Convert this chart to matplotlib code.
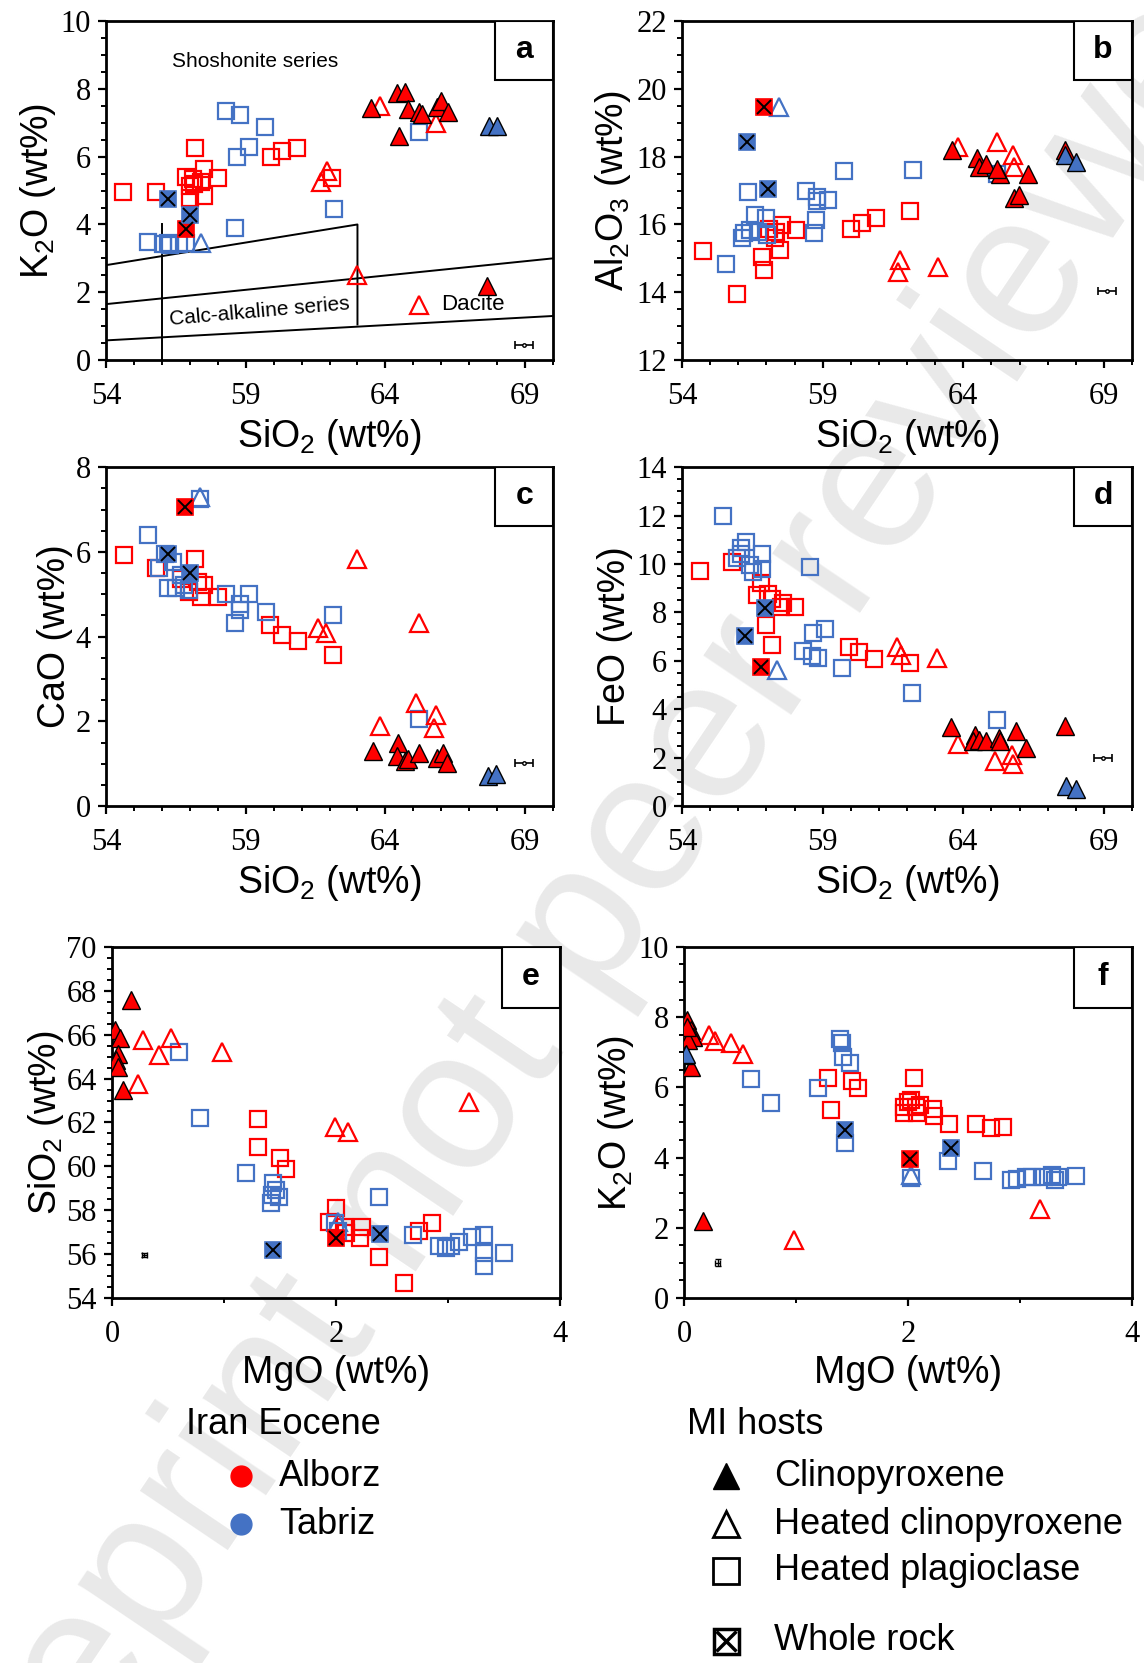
import matplotlib
matplotlib.use('Agg')
import matplotlib.pyplot as plt
from matplotlib.patches import Rectangle
from matplotlib.ticker import FixedLocator, AutoMinorLocator

plt.rcParams['font.family'] = 'Liberation Serif'
plt.rcParams['mathtext.default'] = 'regular'

RED = '#FF0000'
BLUE = '#4472C4'

# ---- panel a: SiO2 vs K2O ----
a_alb_plag = [(54.6, 4.95), (55.8, 4.96), (57.2, 6.27), (56.85, 5.39), (57.1, 5.34), (57.0, 5.14),
              (57.15, 5.19), (57.0, 4.79), (57.4, 5.24), (57.5, 4.84), (57.5, 5.63), (58.0, 5.36),
              (59.9, 5.98), (60.3, 6.18), (60.85, 6.25), (62.1, 5.36)]
a_alb_hcpx = [(63.8, 7.5), (61.9, 5.58), (61.7, 5.26), (63.0, 2.52), (65.8, 7.0)]
a_alb_cpx = [(63.5, 7.43), (64.4, 7.88), (64.7, 7.9), (64.8, 7.41), (64.5, 6.62), (65.2, 7.31),
             (65.3, 7.26), (65.85, 7.46), (66.0, 7.63), (66.25, 7.31), (67.65, 2.17)]
a_tab_cpx = [(67.7, 6.92), (68.0, 6.92)]
a_tab_plag = [(58.3, 7.36), (58.8, 7.23), (59.7, 6.89), (59.1, 6.29), (58.7, 6.0), (58.6, 3.9),
              (62.15, 4.45), (65.2, 6.72), (55.5, 3.48), (56.05, 3.41), (56.3, 3.38), (56.6, 3.41),
              (56.85, 3.46), (56.2, 3.45)]
a_tab_hcpx = [(57.4, 3.44)]
a_alb_wr = [(56.85, 3.87)]
a_tab_wr = [(56.2, 4.76), (57.0, 4.27)]

# Peccerillo & Taylor boundaries (panel a)
pt_upper_x = [54, 63, 63]
pt_upper_y = [2.8, 4.0, 1.05]
pt_mid_x = [54, 70]
pt_mid_y = [1.65, 3.0]
pt_low_x = [54, 70]
pt_low_y = [0.58, 1.3]
pt_vert_x = [56, 56]
pt_vert_y = [4.0, 0]

# ---- panel b: SiO2 vs Al2O3 ----
b_alb_wr = [(56.9, 19.47)]
b_tab_hcpx = [(57.46, 19.47)]
b_tab_wr = [(56.3, 18.42), (57.07, 17.06)]
b_tab_plag = [(56.36, 16.95), (59.74, 17.58), (62.2, 17.6), (58.4, 16.99), (58.8, 16.82), (58.8, 16.7),
              (59.2, 16.72), (58.75, 16.13), (58.7, 15.74), (56.6, 16.28), (56.97, 16.18), (56.2, 15.74),
              (56.4, 15.84), (56.13, 15.59), (56.7, 15.79), (57.03, 15.69), (55.55, 14.82), (65.2, 17.5)]
b_alb_plag = [(54.75, 15.22), (55.96, 13.94), (56.84, 15.05), (56.9, 14.65), (57.1, 15.88), (57.35, 15.79),
              (57.55, 15.98), (57.48, 15.24), (58.05, 15.83), (60.0, 15.88), (60.39, 16.03), (60.9, 16.18),
              (62.1, 16.4), (57.3, 15.6)]
b_alb_hcpx = [(63.8, 18.3), (65.2, 18.44), (65.77, 18.05), (65.8, 17.7), (61.74, 14.95), (61.68, 14.6),
              (63.1, 14.75)]
b_alb_cpx = [(63.6, 18.2), (64.5, 17.97), (64.55, 17.7), (64.8, 17.77), (65.3, 17.5), (65.2, 17.65),
             (66.3, 17.5), (65.8, 16.77), (65.98, 16.87), (67.6, 18.2)]
b_tab_cpx = [(67.6, 18.05), (68.0, 17.85)]

# ---- panel c: SiO2 vs CaO ----
c_alb_wr = [(56.84, 7.07)]
c_tab_hcpx = [(57.38, 7.29)]
c_tab_plag = [(57.38, 7.25), (55.5, 6.39), (55.9, 5.61), (56.2, 5.14), (56.4, 5.76), (56.5, 5.14),
              (56.7, 5.45), (56.8, 5.22), (56.97, 5.1), (58.3, 5.0), (59.1, 5.0), (58.8, 4.78),
              (58.8, 4.63), (58.6, 4.33), (59.74, 4.59), (62.13, 4.51), (65.2, 2.05), (56.1, 5.95)]
c_tab_wr = [(56.2, 5.94), (57.0, 5.49)]
c_alb_plag = [(54.65, 5.92), (55.8, 5.62), (57.2, 5.84), (56.7, 5.37), (56.97, 5.06), (57.3, 5.29),
              (57.5, 5.22), (57.4, 4.94), (58.0, 4.94), (59.87, 4.27), (60.3, 4.04), (60.86, 3.9),
              (62.13, 3.57)]
c_alb_hcpx = [(63.0, 5.82), (61.6, 4.2), (61.87, 4.08), (65.2, 4.33), (65.1, 2.43), (65.8, 2.16),
              (65.74, 1.84), (63.8, 1.88)]
c_alb_cpx = [(63.55, 1.29), (64.45, 1.49), (64.4, 1.18), (64.7, 1.06), (64.8, 1.11), (65.2, 1.25),
             (65.85, 1.14), (66.06, 1.25), (66.2, 1.02)]
c_tab_cpx = [(67.68, 0.71), (67.96, 0.76)]

# ---- panel d: SiO2 vs FeO ----
d_tab_plag = [(55.46, 11.97), (56.08, 10.64), (56.28, 10.91), (55.95, 10.23), (56.4, 9.95), (56.84, 10.43),
              (56.54, 9.68), (56.86, 9.81), (58.56, 9.88), (58.66, 7.16), (59.08, 7.3), (58.3, 6.42),
              (58.62, 6.18), (58.82, 6.1), (59.7, 5.7), (62.16, 4.69), (65.2, 3.57), (56.08, 10.43)]
d_tab_wr = [(56.95, 8.17), (56.24, 7.03)]
d_alb_wr = [(56.82, 5.76)]
d_tab_hcpx = [(57.36, 5.63)]
d_alb_plag = [(54.63, 9.72), (55.76, 10.09), (56.67, 8.72), (57.06, 8.78), (57.19, 8.54), (57.52, 8.23),
              (58.0, 8.23), (57.0, 7.48), (57.19, 6.66), (59.92, 6.59), (60.3, 6.35), (60.84, 6.08),
              (62.1, 5.9), (56.8, 9.2), (57.6, 8.4)]
d_alb_hcpx = [(61.64, 6.59), (61.8, 6.25), (63.05, 6.1), (63.8, 2.58), (65.13, 1.85), (65.74, 2.09),
              (65.78, 1.72)]
d_alb_cpx = [(63.55, 3.27), (64.4, 2.95), (64.35, 2.68), (64.57, 2.74), (64.8, 2.68), (65.26, 2.81),
             (65.3, 2.7), (65.87, 3.09), (66.24, 2.4), (67.6, 3.32)]
d_tab_cpx = [(67.65, 0.82), (68.0, 0.69)]

# ---- panel e: MgO vs SiO2 ----
e_alb_cpx = [(0.17, 67.57), (0.03, 66.2), (0.07, 65.83), (0.05, 65.14), (0.04, 64.84), (0.05, 64.54),
             (0.1, 63.47)]
e_alb_hcpx = [(0.28, 65.75), (0.42, 65.07), (0.53, 65.83), (0.98, 65.22), (0.23, 63.73), (1.99, 61.8),
              (2.11, 61.58), (3.19, 62.94)]
e_tab_plag = [(0.6, 65.22), (0.79, 62.19), (1.2, 59.71), (1.42, 58.32), (1.43, 58.7), (1.46, 58.9),
              (1.49, 58.6), (1.44, 59.23), (2.38, 58.62), (1.99, 57.4), (2.02, 57.03), (2.69, 56.87),
              (2.92, 56.37), (2.98, 56.27), (3.03, 56.37), (3.1, 56.57), (3.21, 56.8), (3.32, 56.87),
              (3.32, 56.04), (3.32, 55.46), (3.5, 56.07)]
e_tab_hcpx = [(2.02, 57.48)]
e_tab_wr = [(1.44, 56.19), (2.39, 56.9)]
e_alb_wr = [(2.0, 56.72)]
e_alb_plag = [(1.3, 62.15), (1.3, 60.9), (1.5, 60.36), (1.55, 59.9), (2.0, 58.09), (1.94, 57.48),
              (2.07, 57.25), (2.23, 57.25), (2.21, 56.72), (2.38, 55.89), (2.61, 54.67), (2.74, 57.03),
              (2.86, 57.4), (2.09, 56.95)]

# ---- panel f: MgO vs K2O ----
f_alb_cpx = [(0.03, 7.91), (0.06, 7.63), (0.08, 7.44), (0.04, 7.35), (0.06, 6.59), (0.17, 2.18),
             (0.03, 7.73)]
f_tab_cpx = [(0.01, 6.92), (0.02, 6.95)]
f_alb_hcpx = [(0.22, 7.49), (0.28, 7.33), (0.42, 7.25), (0.53, 6.94), (0.98, 1.64), (3.18, 2.53)]
f_tab_plag = [(0.6, 6.23), (0.78, 5.56), (1.2, 5.97), (1.39, 7.39), (1.41, 7.25), (1.42, 6.87),
              (1.48, 6.68), (1.44, 4.41), (2.36, 3.89), (2.03, 3.41), (2.67, 3.63), (2.92, 3.36),
              (2.97, 3.38), (3.05, 3.46), (3.11, 3.46), (3.21, 3.46), (3.29, 3.51), (3.31, 3.36),
              (3.34, 3.46), (3.5, 3.48)]
f_tab_hcpx = [(2.03, 3.51)]
f_tab_wr = [(1.44, 4.79), (2.38, 4.27)]
f_alb_wr = [(2.02, 3.95)]
f_alb_plag = [(1.29, 6.26), (1.31, 5.36), (1.5, 6.18), (1.55, 5.97), (2.05, 6.26), (1.96, 5.26),
              (2.0, 5.59), (2.03, 5.64), (2.07, 5.45), (2.11, 5.5), (2.08, 5.28), (2.22, 5.37),
              (2.23, 5.17), (2.37, 4.96), (2.61, 4.96), (2.74, 4.83), (2.85, 4.86), (1.96, 5.45)]

# analytical uncertainty markers (x, y, xerr, yerr)
err_a = (68.95, 0.44, 0.32, 0)
err_b = (69.1, 14.03, 0.32, 0)
err_c = (68.95, 1.02, 0.32, 0)
err_d = (68.97, 1.99, 0.32, 0)
err_e = (0.29, 55.96, 0.025, 0.1)
err_f = (0.3, 1.0, 0.025, 0.1)

sio2_ticks = [54, 59, 64, 69]
mgo_ticks = [0, 2, 4]

SANS = 'Liberation Sans'


def xy(pts):
    return [p[0] for p in pts], [p[1] for p in pts]


def draw_group(ax, pts, kind, colour):
    if not pts:
        return
    x, y = xy(pts)
    if kind == 'plag':
        ax.plot(x, y, ls='none', marker='s', ms=12, mfc='none', mec=colour, mew=1.6, zorder=3)
    elif kind == 'hcpx':
        ax.plot(x, y, ls='none', marker='^', ms=13, mfc='none', mec=colour, mew=1.6, zorder=4)
    elif kind == 'cpx':
        ax.plot(x, y, ls='none', marker='^', ms=13, mfc=colour, mec='black', mew=1.0, zorder=5)
    elif kind == 'wr':
        ax.plot(x, y, ls='none', marker='s', ms=12, mfc=colour, mec=colour, mew=1.2, zorder=6)
        ax.plot(x, y, ls='none', marker='x', ms=10, mec='black', mew=1.4, zorder=7)


def draw_panel(ax, groups, err):
    for kind, alb, tab in groups:
        draw_group(ax, alb, kind, RED)
        draw_group(ax, tab, kind, BLUE)
    ex, ey, exe, eye = err
    if eye:
        ax.errorbar([ex], [ey], xerr=[exe], yerr=[eye], fmt='none', ecolor='black',
                    elinewidth=1.0, capsize=2, capthick=1.0, zorder=8)
    else:
        ax.errorbar([ex], [ey], xerr=[exe], fmt='o', ms=2.5, color='black', mfc='white',
                    ecolor='black', elinewidth=1.2, capsize=3, capthick=1.2, zorder=8)


def style_axes(ax, xlim, ylim, xticks, xminor, ylabel, xlabel, letter, ylabelpad=2):
    ax.set_xlim(*xlim)
    ax.set_ylim(*ylim)
    ax.set_facecolor('none')
    ax.xaxis.set_major_locator(FixedLocator(xticks))
    ax.xaxis.set_minor_locator(FixedLocator(xminor))
    ax.set_yticks(range(int(ylim[0]), int(ylim[1]) + 1, 2))
    ax.yaxis.set_minor_locator(AutoMinorLocator(4))
    ax.tick_params(which='major', direction='out', length=6, width=1.6, labelsize=22)
    ax.tick_params(which='minor', direction='out', length=3.5, width=1.4)
    ax.tick_params(axis='x', which='major', pad=10)
    ax.tick_params(axis='y', which='major', pad=5)
    for s in ax.spines.values():
        s.set_linewidth(2.0)
    ax.set_ylabel(ylabel, fontsize=27, family=SANS, labelpad=ylabelpad)
    ax.set_xlabel(xlabel, fontsize=27, family=SANS, labelpad=4)
    ax.add_patch(Rectangle((0.871, 0.827), 0.129, 0.173, transform=ax.transAxes,
                           facecolor='white', edgecolor='black', lw=1.5, zorder=9))
    ax.text(0.9355, 0.9135, letter, transform=ax.transAxes, ha='center', va='center',
            fontsize=23, fontweight='bold', family=SANS, zorder=10)


fig = plt.figure(figsize=(11.44, 16.63), dpi=100)
fig.patch.set_facecolor('white')

# watermark
fig.text(0.525, 0.4552, 'Preprint not peer reviewed', rotation=56, fontsize=145, color='#e9e9e9',
         ha='center', va='center', family=SANS, zorder=-10)

sio2_minor = list(range(55, 71))
mgo_minor = [1, 3]
sio2_label = 'SiO$_2$ (wt%)'
mgo_label = 'MgO (wt%)'

ax_a = fig.add_axes([0.0927, 0.7835, 0.3907, 0.2038])
draw_panel(ax_a, [('plag', a_alb_plag, a_tab_plag), ('hcpx', a_alb_hcpx, a_tab_hcpx),
                  ('cpx', a_alb_cpx, a_tab_cpx), ('wr', a_alb_wr, a_tab_wr)], err_a)
for lx, ly in [(pt_upper_x, pt_upper_y), (pt_mid_x, pt_mid_y), (pt_low_x, pt_low_y), (pt_vert_x, pt_vert_y)]:
    ax_a.plot(lx, ly, color='black', lw=1.4, zorder=2)
ax_a.text(59.35, 8.8, 'Shoshonite series', fontsize=15, family=SANS, ha='center', va='center')
ax_a.text(59.5, 1.43, 'Calc-alkaline series', fontsize=15, family=SANS, ha='center', va='center', rotation=5)
ax_a.plot([65.2], [1.63], ls='none', marker='^', ms=13, mfc='none', mec=RED, mew=1.6)
ax_a.text(66.0, 1.63, 'Dacite', fontsize=16, family=SANS, ha='left', va='center')
style_axes(ax_a, (54, 70), (0, 10), sio2_ticks, sio2_minor, 'K$_2$O (wt%)', sio2_label, 'a')

ax_b = fig.add_axes([0.5962, 0.7835, 0.3934, 0.2038])
draw_panel(ax_b, [('plag', b_alb_plag, b_tab_plag), ('hcpx', b_alb_hcpx, b_tab_hcpx),
                  ('cpx', b_alb_cpx, b_tab_cpx), ('wr', b_alb_wr, b_tab_wr)], err_b)
style_axes(ax_b, (54, 70), (12, 22), sio2_ticks, sio2_minor, 'Al$_2$O$_3$ (wt%)', sio2_label, 'b')

ax_c = fig.add_axes([0.0927, 0.5153, 0.3907, 0.2038])
draw_panel(ax_c, [('plag', c_alb_plag, c_tab_plag), ('hcpx', c_alb_hcpx, c_tab_hcpx),
                  ('cpx', c_alb_cpx, c_tab_cpx), ('wr', c_alb_wr, c_tab_wr)], err_c)
style_axes(ax_c, (54, 70), (0, 8), sio2_ticks, sio2_minor, 'CaO (wt%)', sio2_label, 'c')

ax_d = fig.add_axes([0.5962, 0.5153, 0.3934, 0.2038])
draw_panel(ax_d, [('plag', d_alb_plag, d_tab_plag), ('hcpx', d_alb_hcpx, d_tab_hcpx),
                  ('cpx', d_alb_cpx, d_tab_cpx), ('wr', d_alb_wr, d_tab_wr)], err_d)
style_axes(ax_d, (54, 70), (0, 14), sio2_ticks, sio2_minor, 'FeO (wt%)', sio2_label, 'd')

ax_e = fig.add_axes([0.0979, 0.2195, 0.3916, 0.2111])
draw_panel(ax_e, [('plag', e_alb_plag, e_tab_plag), ('hcpx', e_alb_hcpx, e_tab_hcpx),
                  ('cpx', e_alb_cpx, []), ('wr', e_alb_wr, e_tab_wr)], err_e)
style_axes(ax_e, (0, 4), (54, 70), mgo_ticks, mgo_minor, 'SiO$_2$ (wt%)', mgo_label, 'e', ylabelpad=0)

ax_f = fig.add_axes([0.5979, 0.2195, 0.3916, 0.2111])
draw_panel(ax_f, [('plag', f_alb_plag, f_tab_plag), ('hcpx', f_alb_hcpx, f_tab_hcpx),
                  ('cpx', f_alb_cpx, f_tab_cpx), ('wr', f_alb_wr, f_tab_wr)], err_f)
style_axes(ax_f, (0, 4), (0, 10), mgo_ticks, mgo_minor, 'K$_2$O (wt%)', mgo_label, 'f')

# ---- legends, laid out in figure pixels ----
leg = fig.add_axes([0, 0, 1, 1])
leg.set_xlim(0, 1144)
leg.set_ylim(1663, 0)
leg.axis('off')
leg.patch.set_alpha(0)

leg.text(186, 1424, 'Iran Eocene', fontsize=26, family=SANS, va='center')
leg.plot([241], [1476], ls='none', marker='o', ms=15, color=RED)
leg.text(279, 1476, 'Alborz', fontsize=26, family=SANS, va='center')
leg.plot([241], [1524], ls='none', marker='o', ms=15, color=BLUE)
leg.text(279, 1524, 'Tabriz', fontsize=26, family=SANS, va='center')

leg.text(687, 1424, 'MI hosts', fontsize=26, family=SANS, va='center')
host_rows = [('Clinopyroxene', 1476), ('Heated clinopyroxene', 1524), ('Heated plagioclase', 1571),
             ('Whole rock', 1641)]
leg.plot([726], [host_rows[0][1]], ls='none', marker='^', ms=19, mfc='black', mec='black')
leg.plot([726], [host_rows[1][1]], ls='none', marker='^', ms=19, mfc='none', mec='black', mew=2)
leg.plot([726], [host_rows[2][1]], ls='none', marker='s', ms=19, mfc='none', mec='black', mew=2)
leg.plot([726], [host_rows[3][1]], ls='none', marker='s', ms=18, mfc='none', mec='black', mew=2.5)
leg.plot([726], [host_rows[3][1]], ls='none', marker='x', ms=14, mec='black', mew=2.5)
for label, yy in host_rows:
    leg.text(774, yy, label, fontsize=26, family=SANS, va='center')

fig.savefig('out.png', dpi=100)
